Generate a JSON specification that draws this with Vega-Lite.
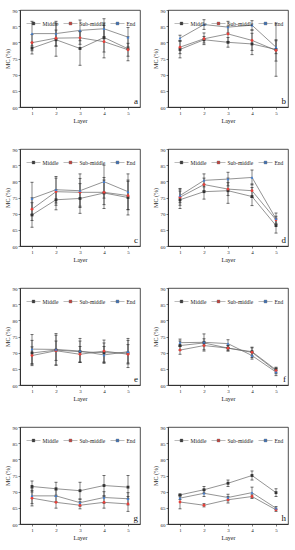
{
  "$schema": "https://vega.github.io/schema/vega-lite/v6.json",
  "padding": {"left": 3, "top": 7, "right": 10, "bottom": 5},
  "columns": 2,
  "spacing": {"row": 22, "column": 10},
  "data": {"values": [
    {"panel":"a","layer":1,"series":"Middle","mc":78.2,"lo":76.4,"hi":80.0},
    {"panel":"a","layer":1,"series":"Sub-middle","mc":79.9,"lo":77.4,"hi":82.4},
    {"panel":"a","layer":1,"series":"End","mc":82.7,"lo":78.9,"hi":86.5},
    {"panel":"a","layer":2,"series":"Middle","mc":80.8,"lo":75.7,"hi":85.9},
    {"panel":"a","layer":2,"series":"Sub-middle","mc":81.3,"lo":78.8,"hi":83.8},
    {"panel":"a","layer":2,"series":"End","mc":82.7,"lo":78.9,"hi":86.5},
    {"panel":"a","layer":3,"series":"Middle","mc":78.1,"lo":72.9,"hi":83.3},
    {"panel":"a","layer":3,"series":"Sub-middle","mc":81.4,"lo":79.4,"hi":83.4},
    {"panel":"a","layer":3,"series":"End","mc":83.7,"lo":80.5,"hi":86.9},
    {"panel":"a","layer":4,"series":"Middle","mc":81.5,"lo":77.0,"hi":86.0},
    {"panel":"a","layer":4,"series":"Sub-middle","mc":80.2,"lo":75.2,"hi":85.2},
    {"panel":"a","layer":4,"series":"End","mc":84.2,"lo":81.1,"hi":87.3},
    {"panel":"a","layer":5,"series":"Middle","mc":78.0,"lo":74.3,"hi":81.7},
    {"panel":"a","layer":5,"series":"Sub-middle","mc":77.7,"lo":75.7,"hi":79.7},
    {"panel":"a","layer":5,"series":"End","mc":81.6,"lo":78.6,"hi":84.6},

    {"panel":"b","layer":1,"series":"Middle","mc":77.8,"lo":75.2,"hi":80.4},
    {"panel":"b","layer":1,"series":"Sub-middle","mc":78.5,"lo":76.5,"hi":80.5},
    {"panel":"b","layer":1,"series":"End","mc":81.3,"lo":80.4,"hi":82.2},
    {"panel":"b","layer":2,"series":"Middle","mc":80.8,"lo":79.8,"hi":81.8},
    {"panel":"b","layer":2,"series":"Sub-middle","mc":81.1,"lo":79.3,"hi":82.9},
    {"panel":"b","layer":2,"series":"End","mc":85.5,"lo":84.0,"hi":87.0},
    {"panel":"b","layer":3,"series":"Middle","mc":80.0,"lo":78.5,"hi":81.5},
    {"panel":"b","layer":3,"series":"Sub-middle","mc":82.6,"lo":80.2,"hi":85.0},
    {"panel":"b","layer":3,"series":"End","mc":84.7,"lo":82.9,"hi":86.5},
    {"panel":"b","layer":4,"series":"Middle","mc":79.5,"lo":76.2,"hi":82.8},
    {"panel":"b","layer":4,"series":"Sub-middle","mc":80.6,"lo":77.5,"hi":83.7},
    {"panel":"b","layer":4,"series":"End","mc":85.3,"lo":83.9,"hi":86.7},
    {"panel":"b","layer":5,"series":"Middle","mc":77.8,"lo":69.5,"hi":85.7},
    {"panel":"b","layer":5,"series":"Sub-middle","mc":77.5,"lo":74.2,"hi":80.8},
    {"panel":"b","layer":5,"series":"End","mc":78.5,"lo":76.5,"hi":80.5},

    {"panel":"c","layer":1,"series":"Middle","mc":69.6,"lo":65.8,"hi":73.4},
    {"panel":"c","layer":1,"series":"Sub-middle","mc":71.4,"lo":67.9,"hi":74.9},
    {"panel":"c","layer":1,"series":"End","mc":74.7,"lo":69.7,"hi":79.7},
    {"panel":"c","layer":2,"series":"Middle","mc":74.3,"lo":71.2,"hi":77.4},
    {"panel":"c","layer":2,"series":"Sub-middle","mc":76.8,"lo":72.6,"hi":81.0},
    {"panel":"c","layer":2,"series":"End","mc":77.4,"lo":73.3,"hi":81.5},
    {"panel":"c","layer":3,"series":"Middle","mc":74.7,"lo":70.1,"hi":79.3},
    {"panel":"c","layer":3,"series":"Sub-middle","mc":76.6,"lo":72.3,"hi":80.9},
    {"panel":"c","layer":3,"series":"End","mc":77.1,"lo":71.9,"hi":82.3},
    {"panel":"c","layer":4,"series":"Middle","mc":76.4,"lo":71.6,"hi":81.2},
    {"panel":"c","layer":4,"series":"Sub-middle","mc":76.6,"lo":72.8,"hi":80.4},
    {"panel":"c","layer":4,"series":"End","mc":79.9,"lo":74.8,"hi":85.0},
    {"panel":"c","layer":5,"series":"Middle","mc":75.0,"lo":69.6,"hi":80.4},
    {"panel":"c","layer":5,"series":"Sub-middle","mc":75.6,"lo":71.2,"hi":80.0},
    {"panel":"c","layer":5,"series":"End","mc":76.8,"lo":71.3,"hi":82.3},

    {"panel":"d","layer":1,"series":"Middle","mc":74.3,"lo":71.6,"hi":77.0},
    {"panel":"d","layer":1,"series":"Sub-middle","mc":75.1,"lo":72.6,"hi":77.6},
    {"panel":"d","layer":1,"series":"End","mc":75.6,"lo":73.4,"hi":77.8},
    {"panel":"d","layer":2,"series":"Middle","mc":76.8,"lo":74.5,"hi":79.1},
    {"panel":"d","layer":2,"series":"Sub-middle","mc":79.0,"lo":77.0,"hi":81.0},
    {"panel":"d","layer":2,"series":"End","mc":80.3,"lo":78.3,"hi":82.3},
    {"panel":"d","layer":3,"series":"Middle","mc":77.1,"lo":73.2,"hi":81.0},
    {"panel":"d","layer":3,"series":"Sub-middle","mc":77.6,"lo":75.6,"hi":79.6},
    {"panel":"d","layer":3,"series":"End","mc":80.7,"lo":78.6,"hi":82.8},
    {"panel":"d","layer":4,"series":"Middle","mc":75.3,"lo":72.5,"hi":78.1},
    {"panel":"d","layer":4,"series":"Sub-middle","mc":77.1,"lo":75.0,"hi":79.2},
    {"panel":"d","layer":4,"series":"End","mc":81.2,"lo":78.9,"hi":83.5},
    {"panel":"d","layer":5,"series":"Middle","mc":66.3,"lo":64.0,"hi":68.6},
    {"panel":"d","layer":5,"series":"Sub-middle","mc":68.1,"lo":67.0,"hi":69.2},
    {"panel":"d","layer":5,"series":"End","mc":68.4,"lo":66.6,"hi":70.2},

    {"panel":"e","layer":1,"series":"Middle","mc":69.9,"lo":66.0,"hi":73.8},
    {"panel":"e","layer":1,"series":"Sub-middle","mc":69.1,"lo":66.4,"hi":71.8},
    {"panel":"e","layer":1,"series":"End","mc":71.1,"lo":66.6,"hi":75.6},
    {"panel":"e","layer":2,"series":"Middle","mc":70.8,"lo":66.2,"hi":75.4},
    {"panel":"e","layer":2,"series":"Sub-middle","mc":70.6,"lo":67.6,"hi":73.6},
    {"panel":"e","layer":2,"series":"End","mc":71.0,"lo":66.1,"hi":75.9},
    {"panel":"e","layer":3,"series":"Middle","mc":70.3,"lo":67.0,"hi":73.6},
    {"panel":"e","layer":3,"series":"Sub-middle","mc":69.5,"lo":67.1,"hi":71.9},
    {"panel":"e","layer":3,"series":"End","mc":70.5,"lo":67.0,"hi":74.4},
    {"panel":"e","layer":4,"series":"Middle","mc":70.0,"lo":67.0,"hi":73.0},
    {"panel":"e","layer":4,"series":"Sub-middle","mc":70.5,"lo":67.1,"hi":73.9},
    {"panel":"e","layer":4,"series":"End","mc":69.3,"lo":66.7,"hi":71.9},
    {"panel":"e","layer":5,"series":"Middle","mc":69.9,"lo":65.4,"hi":74.4},
    {"panel":"e","layer":5,"series":"Sub-middle","mc":69.5,"lo":66.5,"hi":72.5},
    {"panel":"e","layer":5,"series":"End","mc":70.3,"lo":66.8,"hi":73.8},

    {"panel":"f","layer":1,"series":"Middle","mc":72.2,"lo":70.8,"hi":73.6},
    {"panel":"f","layer":1,"series":"Sub-middle","mc":70.8,"lo":69.5,"hi":72.1},
    {"panel":"f","layer":1,"series":"End","mc":73.1,"lo":72.0,"hi":74.2},
    {"panel":"f","layer":2,"series":"Middle","mc":73.0,"lo":70.5,"hi":75.8},
    {"panel":"f","layer":2,"series":"Sub-middle","mc":72.2,"lo":70.9,"hi":73.5},
    {"panel":"f","layer":2,"series":"End","mc":73.2,"lo":72.1,"hi":74.3},
    {"panel":"f","layer":3,"series":"Middle","mc":71.4,"lo":70.5,"hi":72.3},
    {"panel":"f","layer":3,"series":"Sub-middle","mc":71.4,"lo":70.6,"hi":72.2},
    {"panel":"f","layer":3,"series":"End","mc":72.8,"lo":71.6,"hi":74.0},
    {"panel":"f","layer":4,"series":"Middle","mc":70.3,"lo":69.1,"hi":71.5},
    {"panel":"f","layer":4,"series":"Sub-middle","mc":70.1,"lo":68.5,"hi":71.7},
    {"panel":"f","layer":4,"series":"End","mc":69.1,"lo":68.0,"hi":70.2},
    {"panel":"f","layer":5,"series":"Middle","mc":64.7,"lo":63.9,"hi":65.5},
    {"panel":"f","layer":5,"series":"Sub-middle","mc":64.4,"lo":63.5,"hi":65.3},
    {"panel":"f","layer":5,"series":"End","mc":64.0,"lo":62.9,"hi":65.1},

    {"panel":"g","layer":1,"series":"Middle","mc":71.6,"lo":69.9,"hi":73.3},
    {"panel":"g","layer":1,"series":"Sub-middle","mc":68.0,"lo":65.6,"hi":70.4},
    {"panel":"g","layer":1,"series":"End","mc":68.7,"lo":66.3,"hi":71.1},
    {"panel":"g","layer":2,"series":"Middle","mc":70.9,"lo":68.9,"hi":72.9},
    {"panel":"g","layer":2,"series":"Sub-middle","mc":66.7,"lo":64.9,"hi":68.5},
    {"panel":"g","layer":2,"series":"End","mc":68.7,"lo":66.9,"hi":70.5},
    {"panel":"g","layer":3,"series":"Middle","mc":70.3,"lo":67.7,"hi":72.9},
    {"panel":"g","layer":3,"series":"Sub-middle","mc":65.8,"lo":64.7,"hi":66.9},
    {"panel":"g","layer":3,"series":"End","mc":66.6,"lo":65.5,"hi":67.7},
    {"panel":"g","layer":4,"series":"Middle","mc":71.9,"lo":68.8,"hi":75.0},
    {"panel":"g","layer":4,"series":"Sub-middle","mc":66.7,"lo":64.9,"hi":68.5},
    {"panel":"g","layer":4,"series":"End","mc":68.2,"lo":66.4,"hi":70.0},
    {"panel":"g","layer":5,"series":"Middle","mc":71.4,"lo":67.8,"hi":75.0},
    {"panel":"g","layer":5,"series":"Sub-middle","mc":66.2,"lo":63.9,"hi":68.5},
    {"panel":"g","layer":5,"series":"End","mc":67.8,"lo":65.9,"hi":69.7},

    {"panel":"h","layer":1,"series":"Middle","mc":69.0,"lo":68.8,"hi":69.2},
    {"panel":"h","layer":1,"series":"Sub-middle","mc":66.8,"lo":64.7,"hi":68.9},
    {"panel":"h","layer":1,"series":"End","mc":68.0,"lo":67.6,"hi":68.4},
    {"panel":"h","layer":2,"series":"Middle","mc":70.6,"lo":69.6,"hi":71.6},
    {"panel":"h","layer":2,"series":"Sub-middle","mc":65.8,"lo":65.3,"hi":66.3},
    {"panel":"h","layer":2,"series":"End","mc":69.5,"lo":68.5,"hi":70.5},
    {"panel":"h","layer":3,"series":"Middle","mc":72.6,"lo":71.6,"hi":73.6},
    {"panel":"h","layer":3,"series":"Sub-middle","mc":67.5,"lo":66.5,"hi":68.5},
    {"panel":"h","layer":3,"series":"End","mc":68.2,"lo":67.2,"hi":69.2},
    {"panel":"h","layer":4,"series":"Middle","mc":75.0,"lo":73.6,"hi":76.4},
    {"panel":"h","layer":4,"series":"Sub-middle","mc":68.5,"lo":68.0,"hi":69.0},
    {"panel":"h","layer":4,"series":"End","mc":69.7,"lo":68.0,"hi":71.4},
    {"panel":"h","layer":5,"series":"Middle","mc":69.7,"lo":68.5,"hi":70.9},
    {"panel":"h","layer":5,"series":"Sub-middle","mc":64.4,"lo":63.9,"hi":64.9},
    {"panel":"h","layer":5,"series":"End","mc":64.9,"lo":64.4,"hi":65.4}
  ]},
  "concat": [
    {"width":120,"height":97,"transform":[{"filter":"datum.panel==='a'"}],
     "encoding":{"x":{"field":"layer","type":"quantitative","scale":{"domain":[0.5,5.5]},"axis":{"values":[1,2,3,4,5],"format":"d","title":"Layer"}}},
     "layer":[
      {"mark":{"type":"errorbar","ticks":{"size":3},"rule":{"strokeWidth":0.6},"color":"#333"},"encoding":{"y":{"field":"lo","type":"quantitative","scale":{"domain":[60,90]},"axis":{"values":[60,65,70,75,80,85,90],"labelOverlap":false,"tickCount":7},"title":"MC (%)"},"y2":{"field":"hi"}}},
      {"mark":{"type":"line","color":"#666","strokeWidth":0.7},"encoding":{"y":{"field":"mc","type":"quantitative","scale":{"domain":[60,90]},"axis":{"values":[60,65,70,75,80,85,90],"labelOverlap":false,"tickCount":7},"title":"MC (%)"},"detail":{"field":"series"}}},
      {"mark":{"type":"point","filled":true,"size":8,"opacity":1},"encoding":{"y":{"field":"mc","type":"quantitative","scale":{"domain":[60,90]},"axis":{"values":[60,65,70,75,80,85,90],"labelOverlap":false,"tickCount":7},"title":"MC (%)"},"color":{"field":"series","type":"nominal","scale":{"domain":["Middle","Sub-middle","End"],"range":["#333333","#e8403a","#3d7fd9"]},"legend":{"title":null}},"shape":{"condition":[{"test":"datum.series==='Sub-middle'","value":"circle"},{"test":"datum.series==='End'","value":"triangle-up"}],"value":"square"}}},
      {"transform":[{"filter":"datum.layer===5 && datum.series==='End'"}],"mark":{"type":"text","text":"a","align":"right","baseline":"bottom","fontSize":9,"dx":-2,"dy":-1,"color":"#111"},"encoding":{"x":{"datum":5.5},"y":{"datum":60}}}
     ]},
    {"width":120,"height":97,"transform":[{"filter":"datum.panel==='b'"}],
     "encoding":{"x":{"field":"layer","type":"quantitative","scale":{"domain":[0.5,5.5]},"axis":{"values":[1,2,3,4,5],"format":"d","title":"Layer"}}},
     "layer":[
      {"mark":{"type":"errorbar","ticks":{"size":3},"rule":{"strokeWidth":0.6},"color":"#333"},"encoding":{"y":{"field":"lo","type":"quantitative","scale":{"domain":[60,90]},"axis":{"values":[60,65,70,75,80,85,90],"labelOverlap":false,"tickCount":7},"title":"MC (%)"},"y2":{"field":"hi"}}},
      {"mark":{"type":"line","color":"#666","strokeWidth":0.7},"encoding":{"y":{"field":"mc","type":"quantitative","scale":{"domain":[60,90]},"axis":{"values":[60,65,70,75,80,85,90],"labelOverlap":false,"tickCount":7},"title":"MC (%)"},"detail":{"field":"series"}}},
      {"mark":{"type":"point","filled":true,"size":8,"opacity":1},"encoding":{"y":{"field":"mc","type":"quantitative","scale":{"domain":[60,90]},"axis":{"values":[60,65,70,75,80,85,90],"labelOverlap":false,"tickCount":7},"title":"MC (%)"},"color":{"field":"series","type":"nominal","scale":{"domain":["Middle","Sub-middle","End"],"range":["#333333","#e8403a","#3d7fd9"]},"legend":{"title":null}},"shape":{"condition":[{"test":"datum.series==='Sub-middle'","value":"circle"},{"test":"datum.series==='End'","value":"triangle-up"}],"value":"square"}}},
      {"transform":[{"filter":"datum.layer===5 && datum.series==='End'"}],"mark":{"type":"text","text":"b","align":"right","baseline":"bottom","fontSize":9,"dx":-2,"dy":-1,"color":"#111"},"encoding":{"x":{"datum":5.5},"y":{"datum":60}}}
     ]},
    {"width":120,"height":97,"transform":[{"filter":"datum.panel==='c'"}],
     "encoding":{"x":{"field":"layer","type":"quantitative","scale":{"domain":[0.5,5.5]},"axis":{"values":[1,2,3,4,5],"format":"d","title":"Layer"}}},
     "layer":[
      {"mark":{"type":"errorbar","ticks":{"size":3},"rule":{"strokeWidth":0.6},"color":"#333"},"encoding":{"y":{"field":"lo","type":"quantitative","scale":{"domain":[60,90]},"axis":{"values":[60,65,70,75,80,85,90],"labelOverlap":false,"tickCount":7},"title":"MC (%)"},"y2":{"field":"hi"}}},
      {"mark":{"type":"line","color":"#666","strokeWidth":0.7},"encoding":{"y":{"field":"mc","type":"quantitative","scale":{"domain":[60,90]},"axis":{"values":[60,65,70,75,80,85,90],"labelOverlap":false,"tickCount":7},"title":"MC (%)"},"detail":{"field":"series"}}},
      {"mark":{"type":"point","filled":true,"size":8,"opacity":1},"encoding":{"y":{"field":"mc","type":"quantitative","scale":{"domain":[60,90]},"axis":{"values":[60,65,70,75,80,85,90],"labelOverlap":false,"tickCount":7},"title":"MC (%)"},"color":{"field":"series","type":"nominal","scale":{"domain":["Middle","Sub-middle","End"],"range":["#333333","#e8403a","#3d7fd9"]},"legend":{"title":null}},"shape":{"condition":[{"test":"datum.series==='Sub-middle'","value":"circle"},{"test":"datum.series==='End'","value":"triangle-up"}],"value":"square"}}},
      {"transform":[{"filter":"datum.layer===5 && datum.series==='End'"}],"mark":{"type":"text","text":"c","align":"right","baseline":"bottom","fontSize":9,"dx":-2,"dy":-1,"color":"#111"},"encoding":{"x":{"datum":5.5},"y":{"datum":60}}}
     ]},
    {"width":120,"height":97,"transform":[{"filter":"datum.panel==='d'"}],
     "encoding":{"x":{"field":"layer","type":"quantitative","scale":{"domain":[0.5,5.5]},"axis":{"values":[1,2,3,4,5],"format":"d","title":"Layer"}}},
     "layer":[
      {"mark":{"type":"errorbar","ticks":{"size":3},"rule":{"strokeWidth":0.6},"color":"#333"},"encoding":{"y":{"field":"lo","type":"quantitative","scale":{"domain":[60,90]},"axis":{"values":[60,65,70,75,80,85,90],"labelOverlap":false,"tickCount":7},"title":"MC (%)"},"y2":{"field":"hi"}}},
      {"mark":{"type":"line","color":"#666","strokeWidth":0.7},"encoding":{"y":{"field":"mc","type":"quantitative","scale":{"domain":[60,90]},"axis":{"values":[60,65,70,75,80,85,90],"labelOverlap":false,"tickCount":7},"title":"MC (%)"},"detail":{"field":"series"}}},
      {"mark":{"type":"point","filled":true,"size":8,"opacity":1},"encoding":{"y":{"field":"mc","type":"quantitative","scale":{"domain":[60,90]},"axis":{"values":[60,65,70,75,80,85,90],"labelOverlap":false,"tickCount":7},"title":"MC (%)"},"color":{"field":"series","type":"nominal","scale":{"domain":["Middle","Sub-middle","End"],"range":["#333333","#e8403a","#3d7fd9"]},"legend":{"title":null}},"shape":{"condition":[{"test":"datum.series==='Sub-middle'","value":"circle"},{"test":"datum.series==='End'","value":"triangle-up"}],"value":"square"}}},
      {"transform":[{"filter":"datum.layer===5 && datum.series==='End'"}],"mark":{"type":"text","text":"d","align":"right","baseline":"bottom","fontSize":9,"dx":-2,"dy":-1,"color":"#111"},"encoding":{"x":{"datum":5.5},"y":{"datum":60}}}
     ]},
    {"width":120,"height":97,"transform":[{"filter":"datum.panel==='e'"}],
     "encoding":{"x":{"field":"layer","type":"quantitative","scale":{"domain":[0.5,5.5]},"axis":{"values":[1,2,3,4,5],"format":"d","title":"Layer"}}},
     "layer":[
      {"mark":{"type":"errorbar","ticks":{"size":3},"rule":{"strokeWidth":0.6},"color":"#333"},"encoding":{"y":{"field":"lo","type":"quantitative","scale":{"domain":[60,90]},"axis":{"values":[60,65,70,75,80,85,90],"labelOverlap":false,"tickCount":7},"title":"MC (%)"},"y2":{"field":"hi"}}},
      {"mark":{"type":"line","color":"#666","strokeWidth":0.7},"encoding":{"y":{"field":"mc","type":"quantitative","scale":{"domain":[60,90]},"axis":{"values":[60,65,70,75,80,85,90],"labelOverlap":false,"tickCount":7},"title":"MC (%)"},"detail":{"field":"series"}}},
      {"mark":{"type":"point","filled":true,"size":8,"opacity":1},"encoding":{"y":{"field":"mc","type":"quantitative","scale":{"domain":[60,90]},"axis":{"values":[60,65,70,75,80,85,90],"labelOverlap":false,"tickCount":7},"title":"MC (%)"},"color":{"field":"series","type":"nominal","scale":{"domain":["Middle","Sub-middle","End"],"range":["#333333","#e8403a","#3d7fd9"]},"legend":{"title":null}},"shape":{"condition":[{"test":"datum.series==='Sub-middle'","value":"circle"},{"test":"datum.series==='End'","value":"triangle-up"}],"value":"square"}}},
      {"transform":[{"filter":"datum.layer===5 && datum.series==='End'"}],"mark":{"type":"text","text":"e","align":"right","baseline":"bottom","fontSize":9,"dx":-2,"dy":-1,"color":"#111"},"encoding":{"x":{"datum":5.5},"y":{"datum":60}}}
     ]},
    {"width":120,"height":97,"transform":[{"filter":"datum.panel==='f'"}],
     "encoding":{"x":{"field":"layer","type":"quantitative","scale":{"domain":[0.5,5.5]},"axis":{"values":[1,2,3,4,5],"format":"d","title":"Layer"}}},
     "layer":[
      {"mark":{"type":"errorbar","ticks":{"size":3},"rule":{"strokeWidth":0.6},"color":"#333"},"encoding":{"y":{"field":"lo","type":"quantitative","scale":{"domain":[60,90]},"axis":{"values":[60,65,70,75,80,85,90],"labelOverlap":false,"tickCount":7},"title":"MC (%)"},"y2":{"field":"hi"}}},
      {"mark":{"type":"line","color":"#666","strokeWidth":0.7},"encoding":{"y":{"field":"mc","type":"quantitative","scale":{"domain":[60,90]},"axis":{"values":[60,65,70,75,80,85,90],"labelOverlap":false,"tickCount":7},"title":"MC (%)"},"detail":{"field":"series"}}},
      {"mark":{"type":"point","filled":true,"size":8,"opacity":1},"encoding":{"y":{"field":"mc","type":"quantitative","scale":{"domain":[60,90]},"axis":{"values":[60,65,70,75,80,85,90],"labelOverlap":false,"tickCount":7},"title":"MC (%)"},"color":{"field":"series","type":"nominal","scale":{"domain":["Middle","Sub-middle","End"],"range":["#333333","#e8403a","#3d7fd9"]},"legend":{"title":null}},"shape":{"condition":[{"test":"datum.series==='Sub-middle'","value":"circle"},{"test":"datum.series==='End'","value":"triangle-up"}],"value":"square"}}},
      {"transform":[{"filter":"datum.layer===5 && datum.series==='End'"}],"mark":{"type":"text","text":"f","align":"right","baseline":"bottom","fontSize":9,"dx":-2,"dy":-1,"color":"#111"},"encoding":{"x":{"datum":5.5},"y":{"datum":60}}}
     ]},
    {"width":120,"height":97,"transform":[{"filter":"datum.panel==='g'"}],
     "encoding":{"x":{"field":"layer","type":"quantitative","scale":{"domain":[0.5,5.5]},"axis":{"values":[1,2,3,4,5],"format":"d","title":"Layer"}}},
     "layer":[
      {"mark":{"type":"errorbar","ticks":{"size":3},"rule":{"strokeWidth":0.6},"color":"#333"},"encoding":{"y":{"field":"lo","type":"quantitative","scale":{"domain":[60,90]},"axis":{"values":[60,65,70,75,80,85,90],"labelOverlap":false,"tickCount":7},"title":"MC (%)"},"y2":{"field":"hi"}}},
      {"mark":{"type":"line","color":"#666","strokeWidth":0.7},"encoding":{"y":{"field":"mc","type":"quantitative","scale":{"domain":[60,90]},"axis":{"values":[60,65,70,75,80,85,90],"labelOverlap":false,"tickCount":7},"title":"MC (%)"},"detail":{"field":"series"}}},
      {"mark":{"type":"point","filled":true,"size":8,"opacity":1},"encoding":{"y":{"field":"mc","type":"quantitative","scale":{"domain":[60,90]},"axis":{"values":[60,65,70,75,80,85,90],"labelOverlap":false,"tickCount":7},"title":"MC (%)"},"color":{"field":"series","type":"nominal","scale":{"domain":["Middle","Sub-middle","End"],"range":["#333333","#e8403a","#3d7fd9"]},"legend":{"title":null}},"shape":{"condition":[{"test":"datum.series==='Sub-middle'","value":"circle"},{"test":"datum.series==='End'","value":"triangle-up"}],"value":"square"}}},
      {"transform":[{"filter":"datum.layer===5 && datum.series==='End'"}],"mark":{"type":"text","text":"g","align":"right","baseline":"bottom","fontSize":9,"dx":-2,"dy":-1,"color":"#111"},"encoding":{"x":{"datum":5.5},"y":{"datum":60}}}
     ]},
    {"width":120,"height":97,"transform":[{"filter":"datum.panel==='h'"}],
     "encoding":{"x":{"field":"layer","type":"quantitative","scale":{"domain":[0.5,5.5]},"axis":{"values":[1,2,3,4,5],"format":"d","title":"Layer"}}},
     "layer":[
      {"mark":{"type":"errorbar","ticks":{"size":3},"rule":{"strokeWidth":0.6},"color":"#333"},"encoding":{"y":{"field":"lo","type":"quantitative","scale":{"domain":[60,90]},"axis":{"values":[60,65,70,75,80,85,90],"labelOverlap":false,"tickCount":7},"title":"MC (%)"},"y2":{"field":"hi"}}},
      {"mark":{"type":"line","color":"#666","strokeWidth":0.7},"encoding":{"y":{"field":"mc","type":"quantitative","scale":{"domain":[60,90]},"axis":{"values":[60,65,70,75,80,85,90],"labelOverlap":false,"tickCount":7},"title":"MC (%)"},"detail":{"field":"series"}}},
      {"mark":{"type":"point","filled":true,"size":8,"opacity":1},"encoding":{"y":{"field":"mc","type":"quantitative","scale":{"domain":[60,90]},"axis":{"values":[60,65,70,75,80,85,90],"labelOverlap":false,"tickCount":7},"title":"MC (%)"},"color":{"field":"series","type":"nominal","scale":{"domain":["Middle","Sub-middle","End"],"range":["#333333","#e8403a","#3d7fd9"]},"legend":{"title":null}},"shape":{"condition":[{"test":"datum.series==='Sub-middle'","value":"circle"},{"test":"datum.series==='End'","value":"triangle-up"}],"value":"square"}}},
      {"transform":[{"filter":"datum.layer===5 && datum.series==='End'"}],"mark":{"type":"text","text":"h","align":"right","baseline":"bottom","fontSize":9,"dx":-2,"dy":-1,"color":"#111"},"encoding":{"x":{"datum":5.5},"y":{"datum":60}}}
     ]}
  ],
  "resolve": {"scale": {"color": "independent"}, "legend": {"color": "independent"}},
  "config": {
    "font": "Liberation Serif",
    "background": "white",
    "view": {"stroke": "#222", "strokeWidth": 0.8},
    "axis": {"labelFontSize": 5, "titleFontSize": 6, "tickSize": 2, "labelPadding": 1, "titlePadding": 2, "grid": false, "domainColor": "#222", "tickColor": "#222", "labelColor": "#222", "titleColor": "#222", "titleFontWeight": "normal", "domainWidth": 0.8, "tickWidth": 0.6, "labelOverlap": false},
    "legend": {"orient": "top-left", "direction": "horizontal", "offset": 3, "padding": 3, "labelFontSize": 5.5, "labelColor": "#222", "symbolSize": 196, "symbolType": "M-1,0H1M-0.2,-0.2H0.2V0.2H-0.2Z", "symbolStrokeColor": "#555555", "symbolStrokeWidth": 0.4, "labelOffset": 1.5, "columnPadding": 3}
  }
}
